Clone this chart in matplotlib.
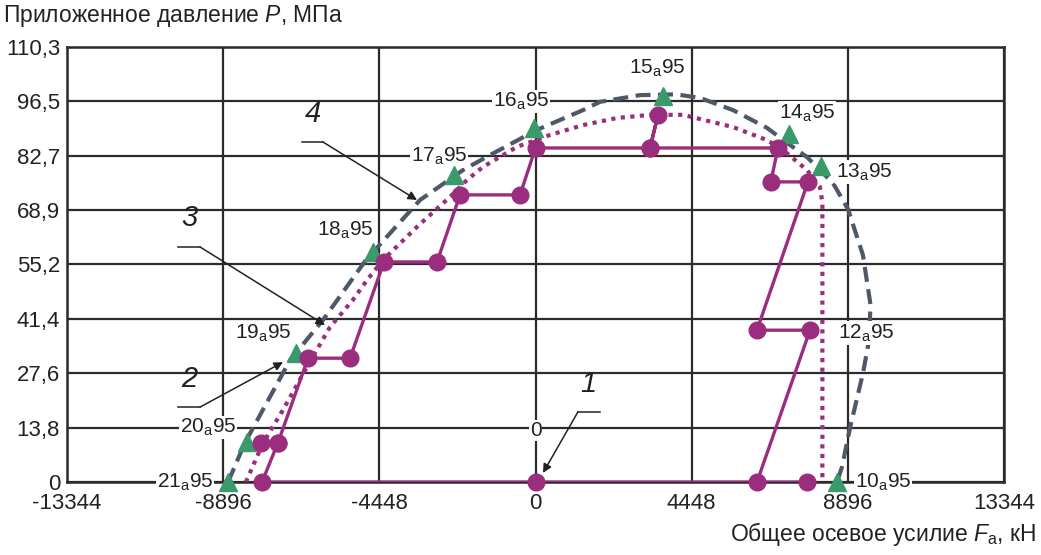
import matplotlib
matplotlib.use("Agg")
import matplotlib.pyplot as plt

plt.rcParams["font.family"] = ["Liberation Sans", "DejaVu Sans"]
plt.rcParams["mathtext.fontset"] = "custom"
plt.rcParams["mathtext.rm"] = "Liberation Sans"
plt.rcParams["mathtext.it"] = "Liberation Sans:italic"

PURPLE = "#9b2d7f"
GREEN = "#3a9a6b"
GRAY = "#4f5866"
GRID = "#2b2b2b"
TEXT = "#222222"

# оси
x_ticks = [-13344, -8896, -4448, 0, 4448, 8896, 13344]
y_ticks = [0, 13.8, 27.6, 41.4, 55.2, 68.9, 82.7, 96.5, 110.3]
y_tick_labels = ["0", "13,8", "27,6", "41,4", "55,2", "68,9", "82,7", "96,5", "110,3"]

# кривая 4 (штриховая)
env_x = [-8758, -8275, -7600, -6993, -6053, -4830, -4000, -3291, -2066, -1297, 42,
         1352, 1836, 2975, 4000, 4684, 5624, 6592, 7162, 7731, 8472, 8899, 9326,
         9540, 9500, 9326, 8956, 8728, 8586]
env_y = [0, 10, 21, 30.9, 41.1, 56.3, 64.5, 71.5, 79.1, 82.9, 89.3,
         94.3, 96.4, 98.1, 98.3, 97.4, 94.3, 89.8, 86, 82.4, 75.8, 69.2, 57.5,
         45, 36, 27.6, 13.7, 3.8, 0]

# кривая 3 (пунктирная)
dot_x = [-8250, -7762, -7192, -6509, -5854, -5199, -4800, -4344, -3376, -2436, -1952,
         -1496, -528, 412, 1352, 2320, 3260, 4200, 5624, 6592, 7048, 7731, 8101,
         8170, 8170]
dot_y = [0, 9.9, 18.3, 29.2, 39.3, 46.2, 51.2, 56.3, 64.7, 72.3, 76.6,
         79.9, 85, 88, 90.5, 92.3, 93.1, 93.1, 90, 86.7, 84.2, 79.1, 74.8,
         70.8, 0]

# кривая 1 (путь нагружения)
path_x = [7731, 0, -7790, -7335, -7830, -7335, -6480, -5284, -4316, -2806, -2151,
          -443, 0, 3260, 3488, 3260, 6905, 6700, 7760, 6307, 7817, 6307]
path_y = [0, 0, 0, 10, 10, 10, 31.4, 31.4, 55.8, 55.8, 72.8,
          72.8, 84.7, 84.7, 93.1, 84.7, 84.7, 76.1, 76.1, 38.5, 38.5, 0]

# точки 10a95 ... 21a95 (кривая 2)
tri_x = [8586, 8130, 7219, 3630, -44, -2322, -4629, -6822, -8218, -8758]
tri_y = [0, 80.1, 88.3, 97.9, 89.8, 77.9, 58.3, 32.7, 10.1, 0]

lbl_names = ["10", "12", "13", "14", "15", "16", "17", "18", "19", "20", "21"]
lbl_x = [9896, 9412, 9355, 7731, 3459, -414, -2749, -5427, -7762, -9328, -9983]
lbl_y = [0, 37.8, 78.6, 93.6, 105, 96.5, 82.7, 63.9, 37.8, 13.8, 0]

fig = plt.figure(figsize=(10.41, 5.55), dpi=100)
ax = fig.add_axes([0.0644, 0.1315, 0.9001, 0.7838])

ax.plot(env_x, env_y, color=GRAY, lw=3, dashes=(3.6, 1.8), zorder=3)
ax.plot(dot_x, dot_y, color=PURPLE, lw=3, dashes=(1, 1.3), zorder=3.2)
ax.plot(path_x, path_y, color=PURPLE, lw=2.4, zorder=3.4)
ax.plot(tri_x, tri_y, linestyle="none", marker="^", ms=13, color=GREEN,
        zorder=3.6, clip_on=False)
ax.plot(path_x, path_y, linestyle="none", marker="o", ms=12, color=PURPLE,
        zorder=3.8, clip_on=False)

for name, x, y in zip(lbl_names, lbl_x, lbl_y):
    ax.text(x, y, f"{name}$_\\mathrm{{a}}$95", fontsize=15, ha="center", va="center",
            color=TEXT, zorder=3.5,
            bbox=dict(facecolor="white", edgecolor="none", pad=0.8))
ax.text(0, 13.0, "0", fontsize=15, ha="center", va="center", color=TEXT,
        zorder=3.5, bbox=dict(facecolor="white", edgecolor="none", pad=0.8))

# выноски 1-4
callouts = [
    ("1", (1494, 21.2), (1209, 1836, 17.8), (1209, 17.8), (212, 2.3)),
    ("2", (-9870, 22.5), (-10183, -9556, 19.0), (-9556, 19.0), (-7192, 30.4)),
    ("3", (-9870, 63.5), (-10183, -9556, 59.6), (-9556, 59.6), (-5996, 39.8)),
    ("4", (-6350, 89.7), (-6651, -6053, 86.2), (-6053, 86.2), (-3376, 71.5)),
]
for num, tpos, (ux0, ux1, uy), start, tip in callouts:
    ax.text(*tpos, num, fontsize=21, style="italic", ha="center", va="bottom",
            color=TEXT, zorder=5)
    ax.plot([ux0, ux1], [uy, uy], color=TEXT, lw=1.1, zorder=5)
    ax.annotate("", xy=tip, xytext=start, zorder=5,
                arrowprops=dict(arrowstyle="-|>", color=TEXT, lw=1.1,
                                mutation_scale=13, shrinkA=0, shrinkB=0))

ax.set_xlim(-13344, 13344)
ax.set_ylim(0, 110.3)
ax.set_xticks(x_ticks)
ax.set_xticklabels([str(t) for t in x_ticks])
ax.set_yticks(y_ticks)
ax.set_yticklabels(y_tick_labels)
ax.tick_params(length=0, labelsize=16, colors=TEXT, pad=5)
ax.tick_params(axis="x", pad=8)
ax.grid(True, color=GRID, lw=1.6)
ax.set_axisbelow(True)
for sp in ax.spines.values():
    sp.set_color(GRID)
    sp.set_linewidth(1.8)

fig.text(0.003, 1 - 16 / 555, "Приложенное давление $\\mathit{P}$, МПа", fontsize=16.5,
         ha="left", va="center", color=TEXT)
fig.text(1036 / 1041, 1 - 541 / 555, "Общее осевое усилие $\\mathit{F}_\\mathrm{a}$, кН",
         fontsize=16.5, ha="right", va="baseline", color=TEXT)

fig.savefig("out.png", dpi=100)
